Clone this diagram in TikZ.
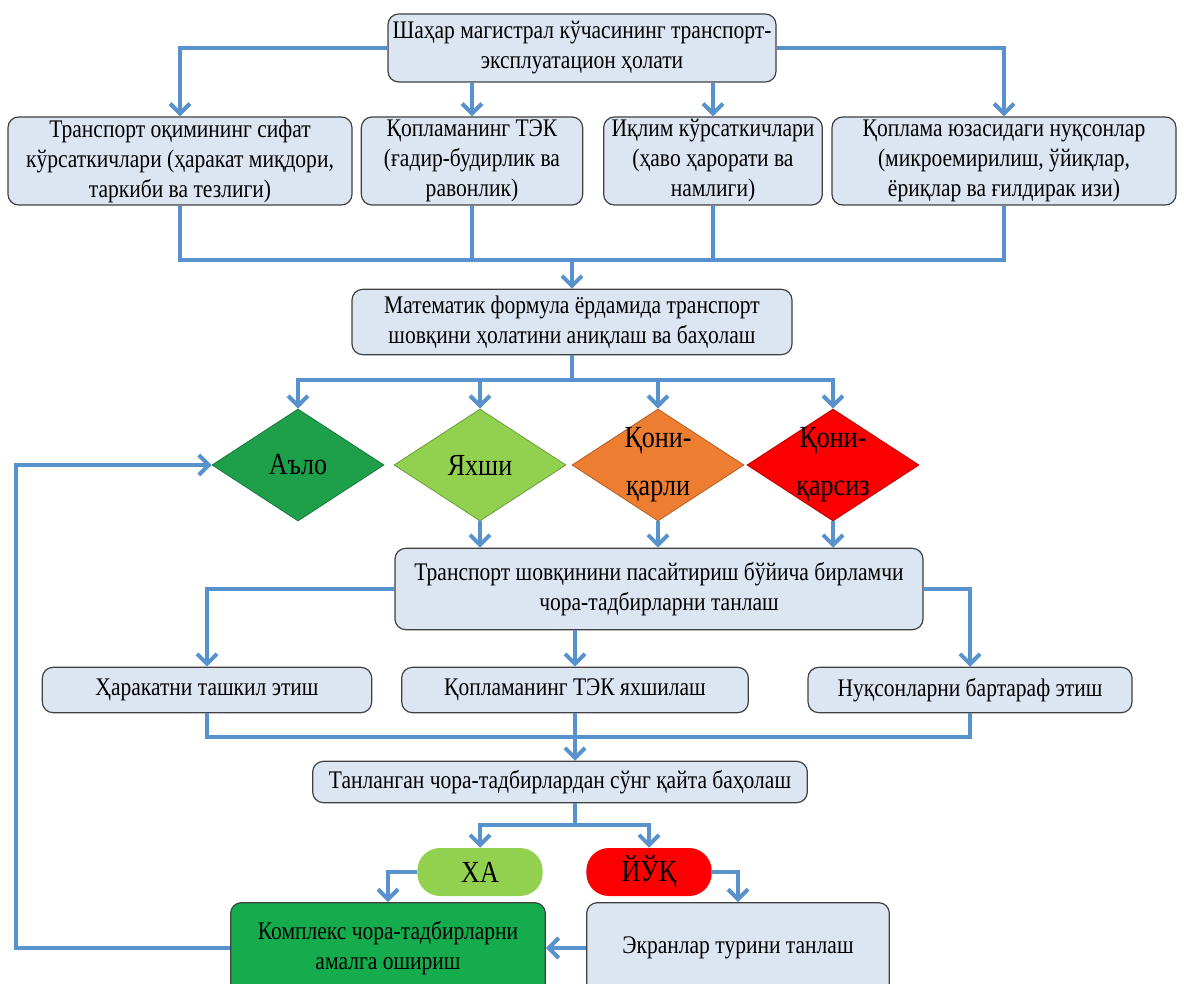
\documentclass[tikz,border=0pt]{standalone}
\usepackage{fontspec}
\setmainfont{Liberation Serif}[FakeStretch=0.85]
\usetikzlibrary{arrows.meta,shapes.geometric}
\definecolor{boxfill}{RGB}{220,230,242}
\definecolor{boxedge}{RGB}{64,64,64}
\definecolor{linkblue}{RGB}{88,146,204}
\definecolor{excellent}{RGB}{30,160,75}
\definecolor{good}{RGB}{146,208,80}
\definecolor{fair}{RGB}{237,125,49}
\definecolor{poor}{RGB}{250,0,0}
\definecolor{complex}{RGB}{20,172,76}
\newcommand\boxfont{\fontsize{19}{22.5}\selectfont}
\newcommand\gradefont{\fontsize{23}{36}\selectfont}

\begin{document}
\begin{tikzpicture}[x=0.75pt, y=-0.75pt,
    box/.style={draw=boxedge, fill=boxfill, rounded corners=8pt, line width=0.9pt,
      align=center, inner sep=0pt, font=\boxfont},
    grade/.style={diamond, draw=#1!75!black, fill=#1, line width=0.6pt, minimum width=129pt,
      minimum height=84pt, inner sep=-14pt, align=center, font=\gradefont},
    answer/.style={fill=#1, rounded corners=17pt, minimum width=94pt, minimum height=36pt,
      inner sep=0pt, font=\gradefont},
    link/.style={draw=linkblue, line width=3pt},
    arr/.style={link, -{Straight Barb[length=7.5pt,width=15pt]}}]
  \useasboundingbox (0,0) rectangle (1184,984);

  % Draw nodes
  \node[box, minimum width=291pt, minimum height=51pt] (top) at (582,48) {Шаҳар магистрал кўчасининг транспорт-\\эксплуатацион ҳолати};
  \node[box, minimum width=258pt, minimum height=66pt] (traffic) at (180,161) {Транспорт оқимининг сифат\\кўрсаткичлари (ҳаракат миқдори,\\таркиби ва тезлиги)};
  \node[box, minimum width=166pt, minimum height=66pt] (cover) at (472,161) {Қопламанинг ТЭК\\(ғадир-будирлик ва\\равонлик)};
  \node[box, minimum width=164pt, minimum height=66pt] (climate) at (713,161) {Иқлим кўрсаткичлари\\(ҳаво ҳарорати ва\\намлиги)};
  \node[box, minimum width=258pt, minimum height=66pt] (defects) at (1004,161) {Қоплама юзасидаги нуқсонлар\\(микроемирилиш, ўйиқлар,\\ёриқлар ва ғилдирак изи)};
  \node[box, minimum width=330pt, minimum height=49pt] (formula) at (572,322) {Математик формула ёрдамида транспорт\\шовқини ҳолатини аниқлаш ва баҳолаш};

  \node[grade=excellent] (excel) at (298,465) {Аъло};
  \node[grade=good] (goodd) at (480,465) {Яхши};
  \node[grade=fair] (faird) at (658,465) {Қони-\\қарли};
  \node[grade=poor] (poord) at (833,465) {Қони-\\қарсиз};

  \node[box, minimum width=396pt, minimum height=61pt] (measures) at (659,589) {Транспорт шовқинини пасайтириш бўйича бирламчи\\чора-тадбирларни танлаш};
  \node[box, minimum width=247pt, minimum height=34pt] (organize) at (207,690) {Ҳаракатни ташкил этиш};
  \node[box, minimum width=260pt, minimum height=34pt] (improve) at (575,690) {Қопламанинг ТЭК яхшилаш};
  \node[box, minimum width=243pt, minimum height=34pt] (remove) at (970,690) {Нуқсонларни бартараф этиш};
  \node[box, minimum width=371pt, minimum height=31pt] (reeval) at (560,782) {Танланган чора-тадбирлардан сўнг қайта баҳолаш};

  \node[answer=good] (yes) at (480,872) {ХА};
  \node[answer=poor] (no) at (649,872) {ЙЎҚ};
  \node[box, fill=complex, minimum width=236pt, minimum height=68pt] (complex) at (388,948) {Комплекс чора-тадбирларни\\амалга ошириш};
  \node[box, minimum width=227pt, minimum height=68pt] (screens) at (738,948) {Экранлар турини танлаш};

  \coordinate (j1) at (572,260);
  \coordinate (j2) at (572,380);
  \coordinate (j3) at (575,737);
  \coordinate (j4) at (575,825);
  \coordinate (back) at (16,465);

  % Draw edges
  \draw[arr] (top.west) -| (traffic.north);
  \draw[arr] (top.east) -| (defects.north);
  \draw[arr] (top.south -| cover.north) -- (cover.north);
  \draw[arr] (top.south -| climate.north) -- (climate.north);
  \draw[link] (traffic.south) |- (j1);
  \draw[link] (cover.south) |- (j1);
  \draw[link] (climate.south) |- (j1);
  \draw[link] (defects.south) |- (j1);
  \draw[arr] (j1) -- (formula.north);

  \draw[link] (formula.south) -- (j2);
  \draw[arr] (j2) -| (excel.north);
  \draw[arr] (j2) -| (goodd.north);
  \draw[arr] (j2) -| (faird.north);
  \draw[arr] (j2) -| (poord.north);
  \draw[arr] (goodd.south) -- (goodd.south |- measures.north);
  \draw[arr] (faird.south) -- (faird.south |- measures.north);
  \draw[arr] (poord.south) -- (poord.south |- measures.north);

  \draw[arr] (measures.west) -| (organize.north);
  \draw[arr] (measures.east) -| (remove.north);
  \draw[arr] (measures.south -| improve.north) -- (improve.north);
  \draw[link] (organize.south) |- (j3);
  \draw[link] (improve.south) -- (j3);
  \draw[link] (remove.south) |- (j3);
  \draw[arr] (j3) -- (j3 |- reeval.north);

  \draw[link] (reeval.south -| j4) -- (j4);
  \draw[arr] (j4) -| (yes.north);
  \draw[arr] (j4) -| (no.north);
  \draw[arr] (yes.west) -| (complex.north);
  \draw[arr] (no.east) -| (screens.north);
  \draw[arr] (screens.west) -- (complex.east);
  \draw[arr] (complex.west) -| (back) -- (excel.west);
\end{tikzpicture}
\end{document}
